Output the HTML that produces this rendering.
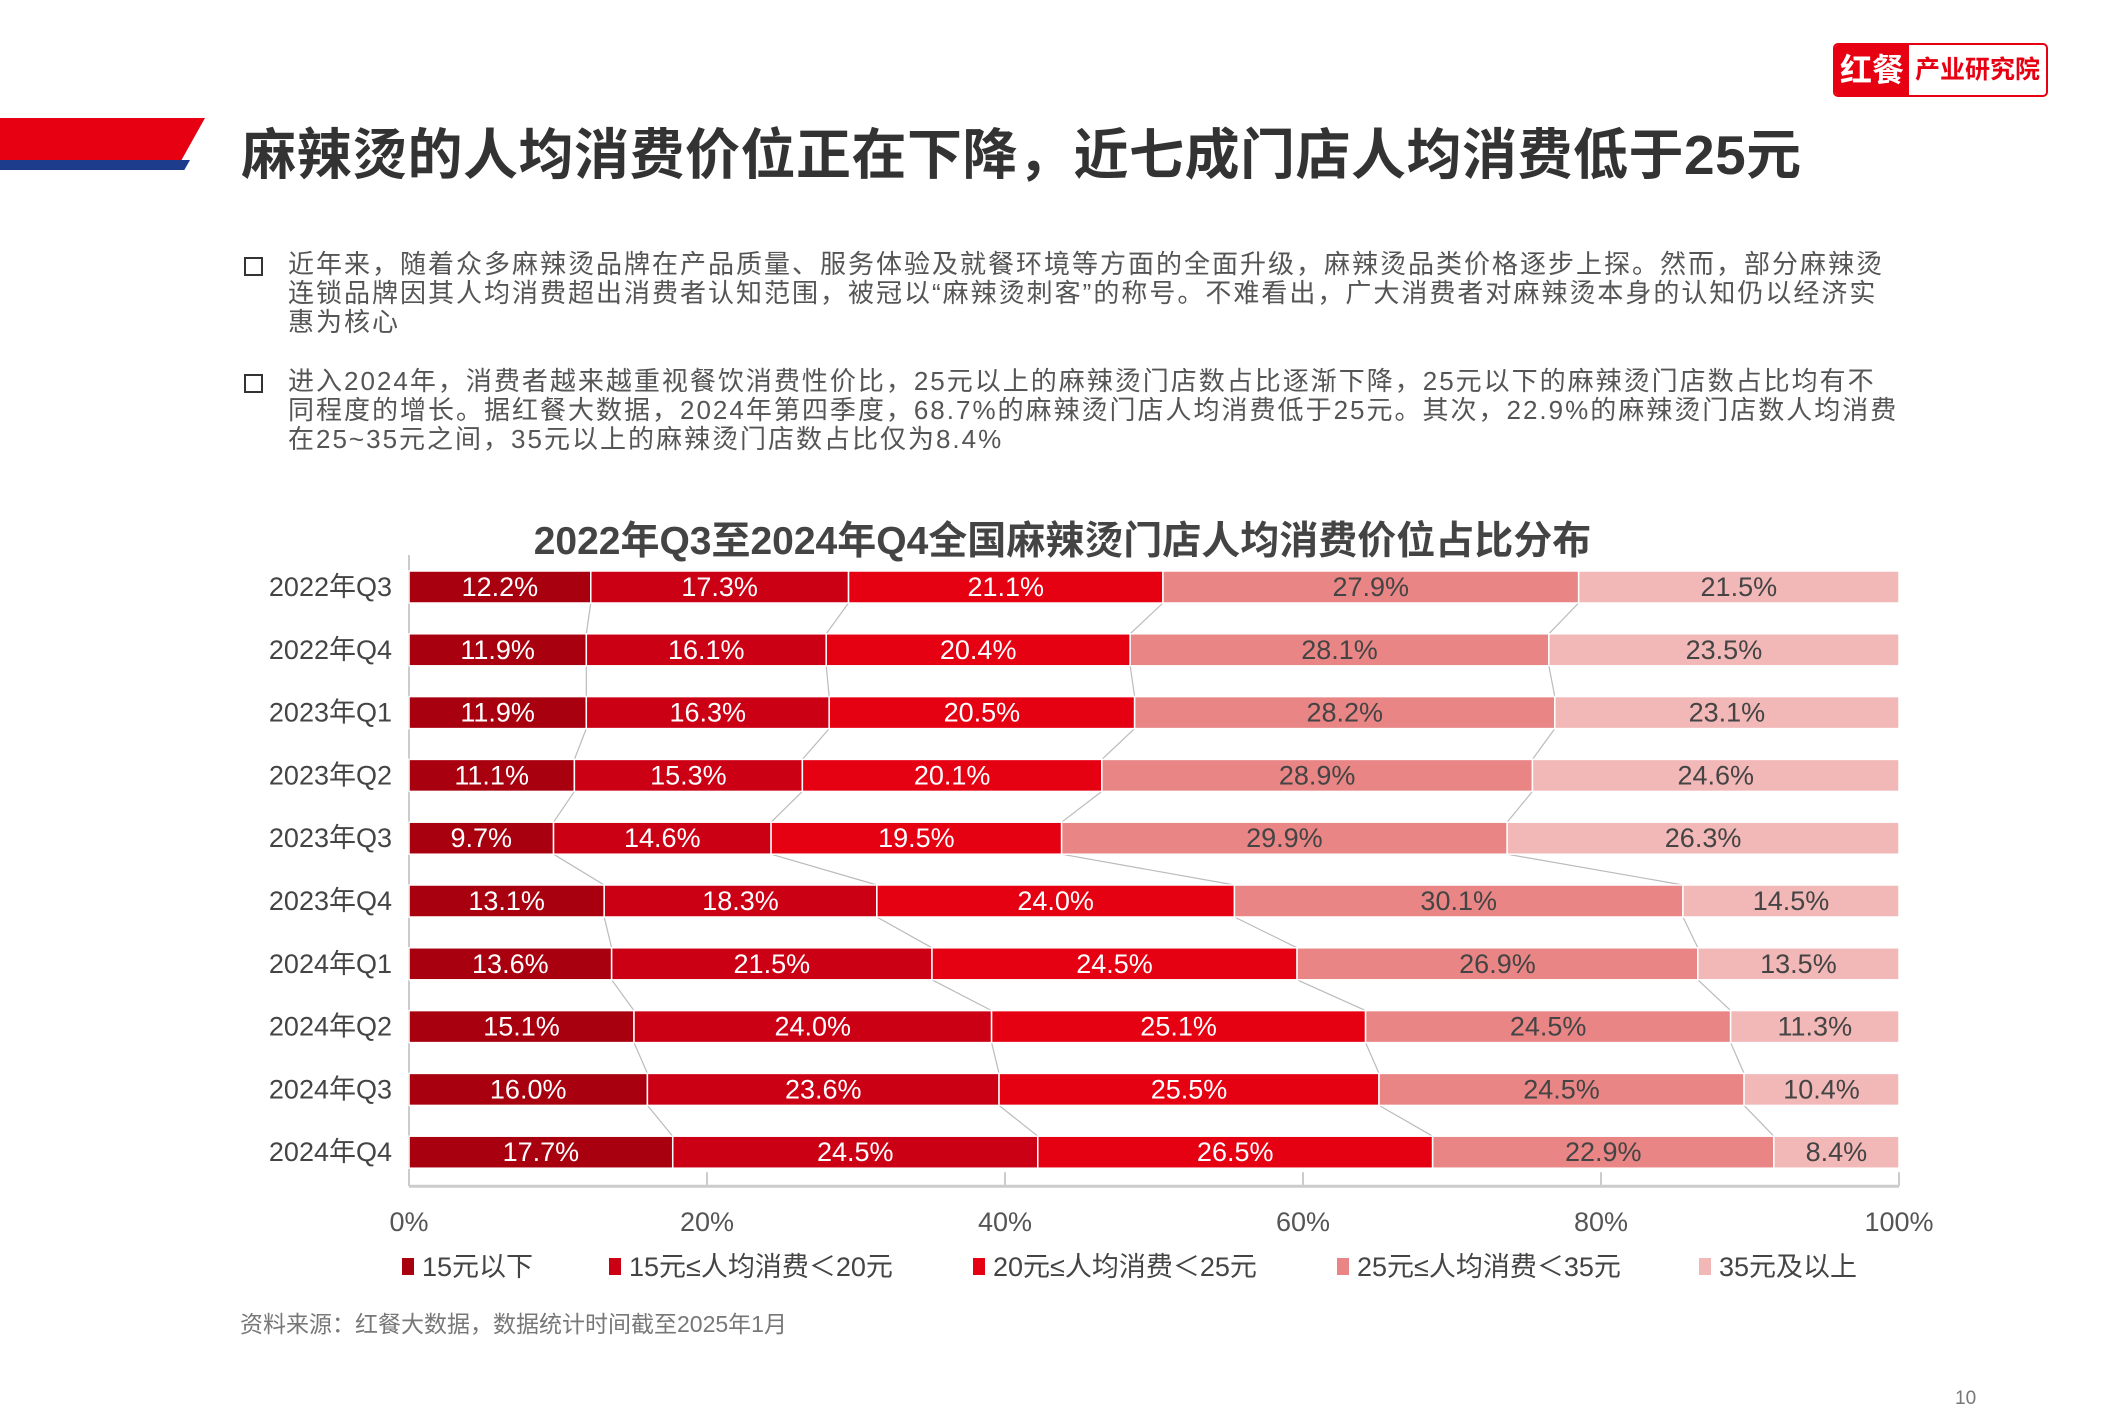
<!DOCTYPE html>
<html><head><meta charset="utf-8">
<style>
html,body{margin:0;padding:0;background:#fff;}
body{width:2125px;height:1417px;position:relative;overflow:hidden;font-family:"Liberation Sans","Noto Sans CJK SC",sans-serif;}
.abs{position:absolute;}
.para{position:absolute;left:288px;width:1615px;font-size:26px;line-height:29px;color:#555;letter-spacing:2px;}
.bul{position:absolute;left:244px;width:15px;height:15px;border:2.5px solid #333;}
</style></head><body>
<div class="abs" style="left:0;top:118px;width:205px;height:44px;background:#e60012;clip-path:polygon(0 0,100% 0,88% 100%,0 100%);"></div>
<div class="abs" style="left:0;top:160px;width:190px;height:10px;background:#1e3c8c;clip-path:polygon(0 0,100% 0,97% 100%,0 100%);"></div>
<div class="abs" style="left:241px;top:110px;font-size:55px;font-weight:bold;color:#333;white-space:nowrap;letter-spacing:0.5px;">麻辣烫的人均消费价位正在下降，近七成门店人均消费低于25元</div>
<div class="abs" style="left:1833px;top:43px;width:211px;height:50px;border:2px solid #e60012;border-radius:5px;overflow:hidden;display:flex;">
 <div style="width:74px;background:#e60012;color:#fff;font-size:32px;font-weight:bold;text-align:center;line-height:50px;">红餐</div>
 <div style="flex:1;color:#e60012;font-size:25px;font-weight:bold;text-align:center;line-height:50px;">产业研究院</div>
</div>
<div class="bul" style="top:257px;"></div>
<div class="para" style="top:250px;">近年来，随着众多麻辣烫品牌在产品质量、服务体验及就餐环境等方面的全面升级，麻辣烫品类价格逐步上探。然而，部分麻辣烫连锁品牌因其人均消费超出消费者认知范围，被冠以“麻辣烫刺客”的称号。不难看出，广大消费者对麻辣烫本身的认知仍以经济实惠为核心</div>
<div class="bul" style="top:374px;"></div>
<div class="para" style="top:367px;">进入2024年，消费者越来越重视餐饮消费性价比，25元以上的麻辣烫门店数占比逐渐下降，25元以下的麻辣烫门店数占比均有不同程度的增长。据红餐大数据，2024年第四季度，68.7%的麻辣烫门店人均消费低于25元。其次，22.9%的麻辣烫门店数人均消费在25~35元之间，35元以上的麻辣烫门店数占比仅为8.4%</div>
<div class="abs" style="left:0;width:2125px;top:510px;text-align:center;font-size:39px;font-weight:bold;color:#444;">2022年Q3至2024年Q4全国麻辣烫门店人均消费价位占比分布</div>
<svg id="chart" class="abs" style="left:0;top:0" width="2125" height="1417"></svg>
<div class="abs" style="left:240px;top:1305px;font-size:23px;color:#777;">资料来源：红餐大数据，数据统计时间截至2025年1月</div>
<div class="abs" style="left:1955px;top:1388px;font-size:19px;color:#777;">10</div>
<script>
const categories=["2022年Q3","2022年Q4","2023年Q1","2023年Q2","2023年Q3","2023年Q4","2024年Q1","2024年Q2","2024年Q3","2024年Q4"];
const s1=[12.2,11.9,11.9,11.1,9.7,13.1,13.6,15.1,16.0,17.7];
const s2=[17.3,16.1,16.3,15.3,14.6,18.3,21.5,24.0,23.6,24.5];
const s3=[21.1,20.4,20.5,20.1,19.5,24.0,24.5,25.1,25.5,26.5];
const s4=[27.9,28.1,28.2,28.9,29.9,30.1,26.9,24.5,24.5,22.9];
const s5=[21.5,23.5,23.1,24.6,26.3,14.5,13.5,11.3,10.4,8.4];
const seriesNames=["15元以下","15元≤人均消费＜20元","20元≤人均消费＜25元","25元≤人均消费＜35元","35元及以上"];
const colors=["#a8000f","#cc0015","#e50012","#e98585","#f2b7b7"];
const ticks=[0,20,40,60,80,100];
const series=[s1,s2,s3,s4,s5];
const X0=409,X1=1899,Y0=587,STEP=62.8,BH=32;
const xs=v=>X0+(X1-X0)*v/100;
const ys=i=>Y0+i*STEP;
const svg=document.getElementById('chart');
const NS='http://www.w3.org/2000/svg';
function mk(t,a){const e=document.createElementNS(NS,t);for(const k in a)e.setAttribute(k,a[k]);svg.appendChild(e);return e;}
let ax=mk('line',{x1:X0,y1:Y0-BH,x2:X0,y2:ys(9)+BH,stroke:'#ccc','stroke-width':2});

let bx=mk('line',{x1:X0,y1:ys(9)+BH+2,x2:X1,y2:ys(9)+BH+2,stroke:'#ccc','stroke-width':3});

ticks.forEach(t=>{
 let tl=mk('line',{x1:xs(t),y1:ys(9)+BH-12,x2:xs(t),y2:ys(9)+BH+2,stroke:'#ccc','stroke-width':2});
 
 let tx=mk('text',{x:xs(t),y:1231,'text-anchor':'middle','font-size':27,fill:'#555'});
 tx.textContent=t+'%';
 
});
for(let i=0;i<categories.length-1;i++){
 let c1=0,c2=0;
 for(let k=0;k<4;k++){c1+=series[k][i];c2+=series[k][i+1];
  let l=mk('line',{x1:xs(c1),y1:ys(i)+BH/2,x2:xs(c2),y2:ys(i+1)-BH/2,stroke:'#bbb','stroke-width':1.2});
  
 }
}
categories.forEach((c,i)=>{
 let lab=mk('text',{x:392,y:ys(i)+9,'text-anchor':'end','font-size':27,fill:'#444'});
 lab.textContent=c;
 
 let cum=0;
 series.forEach((s,k)=>{
  const v=s[i];
  let r=mk('rect',{x:xs(cum),y:ys(i)-BH/2,width:xs(cum+v)-xs(cum),height:BH,fill:colors[k],stroke:'#fff','stroke-width':1.5});
  
  let t=mk('text',{x:xs(cum+v/2),y:ys(i)+9,'text-anchor':'middle','font-size':27,fill:k<3?'#fff':'#444'});
  t.textContent=v.toFixed(1)+'%';
  
  cum+=v;
 });
});
const legX=[402,609,973,1337,1699];
seriesNames.forEach((n,k)=>{
 let r=mk('rect',{x:legX[k],y:1258,width:12,height:17,fill:colors[k]});
 
 let t=mk('text',{x:legX[k]+20,y:1276,'font-size':27,fill:'#444'});
 t.textContent=n;
 
});
</script>
</body></html>
